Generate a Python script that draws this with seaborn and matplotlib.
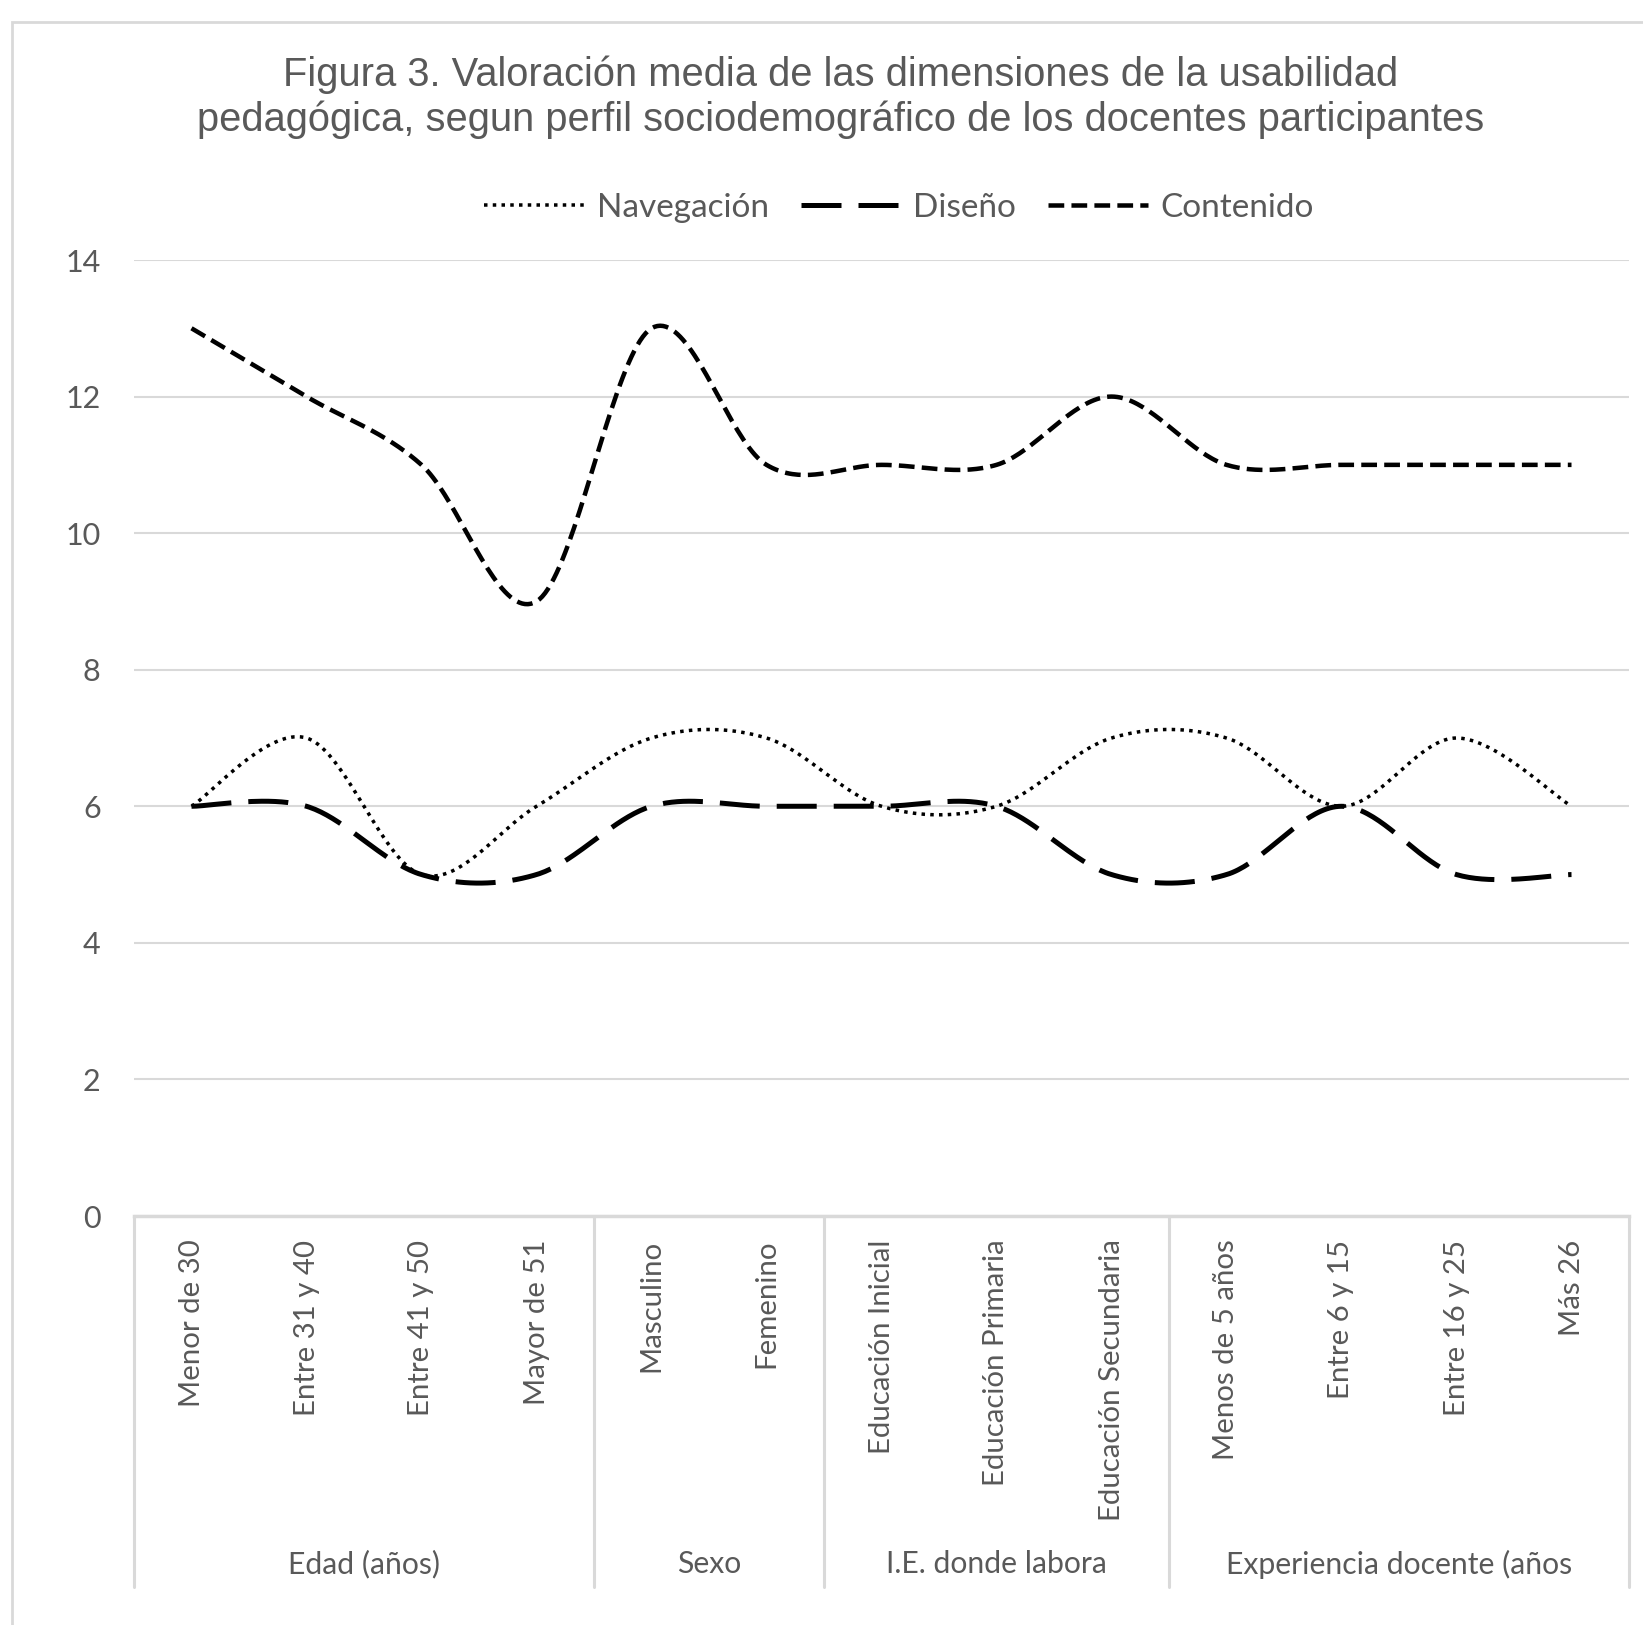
import numpy as np
import pandas as pd
import matplotlib
matplotlib.use("Agg")
import matplotlib.pyplot as plt
import matplotlib.transforms as mtransforms
from matplotlib.patches import Rectangle
import seaborn as sns

# ---------------- data ----------------
groups = ["Edad (años)", "Sexo", "I.E. donde labora", "Experiencia docente (años"]
group_sizes = [4, 2, 3, 4]
categories = ["Menor de 30", "Entre 31 y 40", "Entre 41 y 50", "Mayor de 51",
              "Masculino", "Femenino",
              "Educación Inicial", "Educación Primaria", "Educación Secundaria",
              "Menos de 5 años", "Entre 6 y 15", "Entre 16 y 25", "Más 26"]
navegacion = [6, 7, 5, 6, 7, 7, 6, 6, 7, 7, 6, 7, 6]
diseno = [6, 6, 5, 5, 6, 6, 6, 6, 5, 5, 6, 5, 5]
contenido = [13, 12, 11, 9, 13, 11, 11, 11, 12, 11, 11, 11, 11]
series_names = ["Navegación", "Diseño", "Contenido"]
series_values = [navegacion, diseno, contenido]
y_ticks = [0, 2, 4, 6, 8, 10, 12, 14]
title = ("Figura 3. Valoración media de las dimensiones de la usabilidad\n"
         "pedagógica, segun perfil sociodemográfico de los docentes participantes")


def smooth(xs, ys, n=40):
    """Excel-like smoothed line (Catmull-Rom as cubic Bezier)."""
    P = np.column_stack([xs, ys]).astype(float)
    out = []
    for i in range(len(P) - 1):
        p0 = P[i - 1] if i > 0 else P[i]
        p1, p2 = P[i], P[i + 1]
        p3 = P[i + 2] if i + 2 < len(P) else P[i + 1]
        c1 = p1 + (p2 - p0) / 6.0
        c2 = p2 - (p3 - p1) / 6.0
        t = np.linspace(0, 1, n, endpoint=(i == len(P) - 2))[:, None]
        B = ((1 - t) ** 3) * p1 + 3 * (1 - t) ** 2 * t * c1 + 3 * (1 - t) * t ** 2 * c2 + t ** 3 * p2
        out.append(B)
    return np.vstack(out)


rows = []
xpos = np.arange(len(categories))
for name, vals in zip(series_names, series_values):
    pts = smooth(xpos, vals)
    for k, (x, y) in enumerate(pts):
        rows.append({"serie": name, "x": x, "y": y, "order": k})
df = pd.DataFrame(rows)

# ---------------- figure ----------------
sns.set_theme(style="white")
CAL = ["Lato", "DejaVu Sans"]
plt.rcParams["font.family"] = CAL
GRAY = "#595959"
LGRAY = "#d9d9d9"

W, H = 1643, 1625
fig = plt.figure(figsize=(W / 100, H / 100), dpi=100)
fig.patch.set_facecolor("white")

# chart frame (only left/top visible in reference)
fig.add_artist(Rectangle((12 / W, -0.05), 1.2, 1 - 22 / H + 0.05, transform=fig.transFigure,
                         fill=False, edgecolor=LGRAY, lw=2))

L, R, T, B = 134, 1629, 260, 1216
ax = fig.add_axes([L / W, 1 - B / H, (R - L) / W, (B - T) / H])

palette = {n: "black" for n in series_names}
dashes = {"Navegación": (1.0, 1.5), "Diseño": (8.0, 3.4), "Contenido": (3.5, 1.6)}
sizes = {"Navegación": 3.5 * 0.72, "Diseño": 5.0 * 0.72, "Contenido": 4.5 * 0.72}
sns.lineplot(data=df, x="x", y="y", hue="serie", style="serie", size="serie",
             palette=palette, dashes=dashes, sizes=sizes, sort=False,
             estimator=None, units="serie", legend=False, ax=ax,
             hue_order=series_names, style_order=series_names, size_order=series_names)

lines = ax.get_lines()[:3]
for ln in lines:
    ln.set_dash_capstyle("butt")

ax.set_xlim(-0.5, len(categories) - 0.5)
ax.set_ylim(0, 14)
ax.set_yticks(y_ticks)
ax.set_yticklabels([str(v) for v in y_ticks], color=GRAY, fontsize=22)
ax.tick_params(axis="y", length=0, pad=24)
ax.set_xticks(xpos)
ax.set_xticklabels(categories, rotation=90, color=GRAY, fontsize=21.2, va="top")
ax.tick_params(axis="x", length=0, pad=17)
ax.set_xlabel("")
ax.set_ylabel("")
ax.grid(axis="y", color=LGRAY, lw=1.5)
ax.grid(axis="x", visible=False)
for s in ["left", "right", "top"]:
    ax.spines[s].set_visible(False)
ax.spines["bottom"].set_color(LGRAY)
ax.spines["bottom"].set_linewidth(2.5)
ax.set_axisbelow(True)

# multi-level category axis
trans = mtransforms.blended_transform_factory(ax.transData, ax.transAxes)
bounds = np.concatenate([[0], np.cumsum(group_sizes)]) - 0.5
depth = -(1587 - B) / (B - T)
for b in bounds:
    ax.plot([b, b], [0, depth], transform=trans, color=LGRAY, lw=2.2, clip_on=False)
glab_y = -(1564 - B) / (B - T)
for g, a, b in zip(groups, bounds[:-1], bounds[1:]):
    ax.text((a + b) / 2, glab_y, g, transform=trans, ha="center", va="center",
            color=GRAY, fontsize=21.7)

# legend
handles = lines
leg = fig.legend(handles, series_names, loc="center", ncol=3,
                 bbox_to_anchor=(899 / W, 1 - 208 / H), frameon=False,
                 fontsize=24, handlelength=3.0, handletextpad=0.38, columnspacing=0.96,
                 labelcolor=GRAY)
for ln in leg.get_lines():
    ln.set_dash_capstyle("butt")

# title
fig.text(841 / W, 1 - 97.5 / H, title, ha="center", va="center", fontsize=28.7,
         color=GRAY, family=["Liberation Sans", "DejaVu Sans"], linespacing=1.22)

fig.savefig("out.png", dpi=100, facecolor="white")
